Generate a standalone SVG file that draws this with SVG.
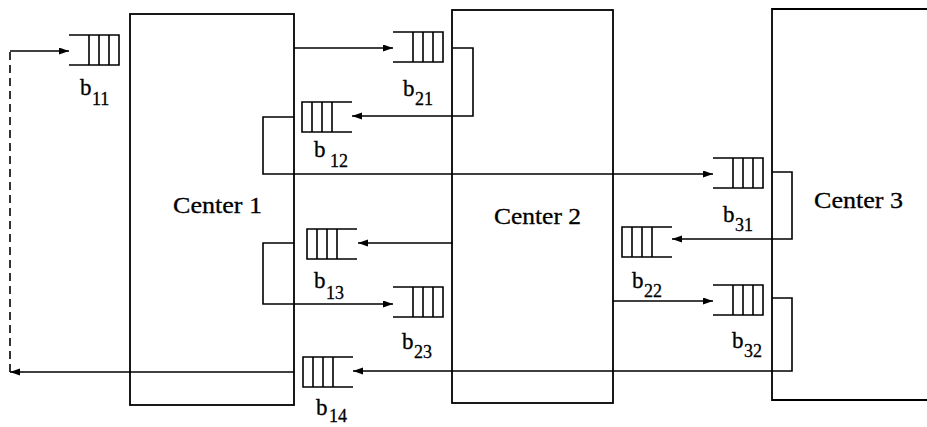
<svg xmlns="http://www.w3.org/2000/svg" width="927" height="427" viewBox="0 0 927 427">
<style>
.box{fill:none;stroke:#000;stroke-width:1.8}
.q{fill:none;stroke:#000;stroke-width:1.6}
.c{fill:none;stroke:#000;stroke-width:1.6}
.d{fill:none;stroke:#000;stroke-width:1.6;stroke-dasharray:8 5}
.lbl{font-family:"Liberation Serif","Times New Roman",serif;font-size:23px;fill:#000;stroke:#000;stroke-width:0.3}
.sub{font-size:18px}
.ctr{font-family:"Liberation Serif","Times New Roman",serif;font-size:24px;fill:#000;stroke:#000;stroke-width:0.3}
</style>
<defs>
<marker id="ah" markerUnits="userSpaceOnUse" markerWidth="11" markerHeight="8" refX="10" refY="3.5" orient="auto">
<path d="M0,0 L10,3.5 L0,7 z" fill="#000"/>
</marker>
<g id="qR"><path class="q" d="M0,0 H50 V30 H0 M20,0 V30 M30,0 V30 M40,0 V30"/></g>
<g id="qL"><path class="q" d="M50,0 H0 V30 H50 M10,0 V30 M20,0 V30 M30,0 V30"/></g>
</defs>
<rect width="927" height="427" fill="#fff"/>
<g id="center1">
<rect class="box" x="130" y="14" width="164" height="391"/>
<text class="ctr" x="173" y="213" textLength="89" lengthAdjust="spacingAndGlyphs">Center 1</text>
</g>
<g id="center2">
<rect class="box" x="452" y="10" width="161" height="393"/>
<text class="ctr" x="494" y="224" textLength="87" lengthAdjust="spacingAndGlyphs">Center 2</text>
</g>
<g id="center3">
<path class="box" d="M930,9 H772 V400 H930"/>
<text class="ctr" x="814" y="208" textLength="89" lengthAdjust="spacingAndGlyphs">Center 3</text>
</g>
<g id="b11"><use href="#qR" x="69" y="35"/><text class="lbl" x="80" y="95">b<tspan class="sub" x="92" y="105">11</tspan></text></g>
<g id="b21"><use href="#qR" x="393" y="32"/><text class="lbl" x="403" y="96">b<tspan class="sub" x="415" y="105">21</tspan></text></g>
<g id="b12"><use href="#qL" x="302" y="102"/><text class="lbl" x="314" y="157">b<tspan class="sub" x="330" y="167">12</tspan></text></g>
<g id="b31"><use href="#qR" x="713" y="158"/><text class="lbl" x="723" y="222">b<tspan class="sub" x="735" y="231">31</tspan></text></g>
<g id="b13"><use href="#qL" x="307" y="229"/><text class="lbl" x="314" y="288">b<tspan class="sub" x="326" y="299">13</tspan></text></g>
<g id="b22"><use href="#qL" x="622" y="227"/><text class="lbl" x="632" y="288">b<tspan class="sub" x="644" y="297">22</tspan></text></g>
<g id="b23"><use href="#qR" x="393" y="287"/><text class="lbl" x="402" y="349">b<tspan class="sub" x="414" y="358">23</tspan></text></g>
<g id="b32"><use href="#qR" x="713" y="285"/><text class="lbl" x="732" y="348">b<tspan class="sub" x="744" y="357">32</tspan></text></g>
<g id="b14"><use href="#qL" x="303" y="357"/><text class="lbl" x="316" y="415">b<tspan class="sub" x="329" y="422">14</tspan></text></g>
<g id="connectors">
<path class="c" d="M294,372 H10" marker-end="url(#ah)"/>
<path class="d" d="M10,372 V51"/>
<path class="c" d="M10,51 H69" marker-end="url(#ah)"/>
<path class="c" d="M294,48 H393" marker-end="url(#ah)"/>
<path class="c" d="M453,48 H473 V116 H352" marker-end="url(#ah)"/>
<path class="c" d="M294,117 H263 V174 H713" marker-end="url(#ah)"/>
<path class="c" d="M772,172 H792 V239 H672" marker-end="url(#ah)"/>
<path class="c" d="M453,243 H358" marker-end="url(#ah)"/>
<path class="c" d="M294,243 H263 V304 H393" marker-end="url(#ah)"/>
<path class="c" d="M613,301 H713" marker-end="url(#ah)"/>
<path class="c" d="M772,298 H792 V371 H353" marker-end="url(#ah)"/>
</g>
</svg>
